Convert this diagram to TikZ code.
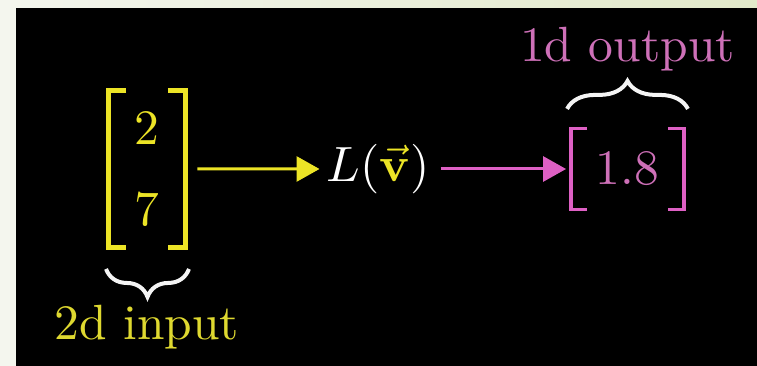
\documentclass[tikz,border=0pt]{standalone}
\usetikzlibrary{arrows.meta,positioning,decorations.pathreplacing}
\usepackage{xcolor}
\definecolor{tfAmarillo}{RGB}{236,228,38}
\definecolor{tfAmarilloTxt}{RGB}{222,216,48}
\definecolor{tfRosa}{RGB}{222,96,196}
\definecolor{tfRosaTxt}{RGB}{206,112,184}
\definecolor{tfBlanco}{RGB}{244,244,244}
\definecolor{tfMarcoIzq}{RGB}{244,246,238}
\definecolor{tfMarcoDer}{RGB}{226,233,202}

\begin{document}
\begin{tikzpicture}[x=1pt, y=1pt,
     num/.style={inner sep=0pt, align=center, scale=4.95, font=\fontsize{10}{16.2}\selectfont},
     vecin/.style={num, text=tfAmarillo, minimum width=15.15pt, minimum height=31.3pt},
     vecout/.style={num, text=tfRosaTxt, minimum width=22.4pt, minimum height=16pt},
     corchA/.style={tfAmarillo, line width=5pt},
     corchR/.style={tfRosa, line width=3.5pt},
     fl/.style={-{Triangle[length=23pt, width=25pt]}, line width=3pt},
     llave/.style={decorate, decoration={brace, amplitude=28pt}, draw=tfBlanco, line width=4pt},
     etiq/.style={inner sep=0pt, scale=4.95, font=\fontsize{10}{12}\selectfont}]
    \useasboundingbox (0,0) rectangle (757,-366);
    \shade[left color=tfMarcoIzq, right color=tfMarcoDer] (0,0) rectangle (757,-366);
    \fill[black] (16,-8) rectangle (757,-366);

    \node[vecin] (vin) at (147,-169) {2\\7};
    \node[etiq, text=white] (Lv) at (378,-169) {$L(\textcolor{tfAmarillo}{\vec{\mathbf{v}}})$};
    \node[vecout] (vout) at (627.5,-169) {1.8};
    \node[etiq, text=tfAmarilloTxt, below=57pt of vin] (lblin) {2d input};
    \node[etiq, text=tfRosaTxt, above=56.5pt of vout] (lblout) {1d output};

    \draw[corchA] ([xshift=17.5pt]vin.north west) -- (vin.north west) -- (vin.south west) -- ([xshift=17.5pt]vin.south west);
    \draw[corchA] ([xshift=-17.5pt]vin.north east) -- (vin.north east) -- (vin.south east) -- ([xshift=-17.5pt]vin.south east);
    \draw[corchR] ([xshift=16pt]vout.north west) -- (vout.north west) -- (vout.south west) -- ([xshift=16pt]vout.south west);
    \draw[corchR] ([xshift=-16pt]vout.north east) -- (vout.north east) -- (vout.south east) -- ([xshift=-16pt]vout.south east);

    \draw[llave] ([shift={(3.5pt,-21.5pt)}]vin.south east) -- ([shift={(-2.5pt,-21.5pt)}]vin.south west);
    \draw[llave] ([shift={(-4pt,19.5pt)}]vout.north west) -- ([shift={(4pt,19.5pt)}]vout.north east);

    \draw[fl, tfAmarillo, shorten <=12pt, shorten >=6pt] (vin) -- (Lv);
    \draw[fl, tfRosa, shorten <=10pt, shorten >=5pt] (Lv) -- (vout);
  \end{tikzpicture}
\end{document}
